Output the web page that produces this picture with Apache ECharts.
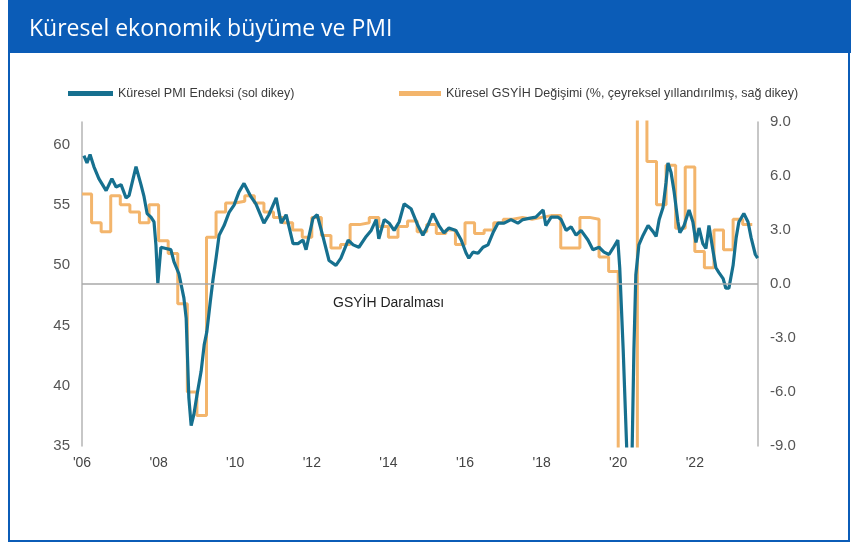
<!DOCTYPE html>
<html>
<head>
<meta charset="utf-8">
<script src="https://cdn.jsdelivr.net/npm/echarts@6/dist/echarts.min.js"></script>
<style>
  html, body { margin: 0; padding: 0; background: #fff; }
  #main { width: 851px; height: 547px; }
</style>
</head>
<body>
<div id="main"></div>
<script>
// aylik PMI (ondalik yil, deger)
var pmiDates = [
  2006.05, 2006.13, 2006.21, 2006.31, 2006.44, 2006.63, 2006.78, 2006.89, 2007.02, 2007.15,
  2007.23, 2007.41, 2007.54, 2007.62, 2007.70, 2007.80, 2007.88, 2007.93, 2007.98, 2008.06,
  2008.19, 2008.32, 2008.40, 2008.53, 2008.66, 2008.72, 2008.79, 2008.85, 2008.92, 2009.00,
  2009.11, 2009.19, 2009.26, 2009.35, 2009.42, 2009.50, 2009.58, 2009.71, 2009.84, 2009.97,
  2010.10, 2010.23, 2010.41, 2010.54, 2010.75, 2010.88, 2011.07, 2011.20, 2011.33, 2011.51,
  2011.64, 2011.77, 2011.85, 2012.03, 2012.14, 2012.29, 2012.45, 2012.63, 2012.76, 2012.95,
  2013.08, 2013.23, 2013.42, 2013.55, 2013.68, 2013.75, 2013.89, 2014.02, 2014.15, 2014.28,
  2014.41, 2014.59, 2014.77, 2014.90, 2015.03, 2015.16, 2015.32, 2015.45, 2015.58, 2015.76,
  2015.90, 2016.03, 2016.10, 2016.21, 2016.34, 2016.47, 2016.60, 2016.73, 2016.86, 2017.02,
  2017.20, 2017.38, 2017.51, 2017.67, 2017.85, 2018.04, 2018.11, 2018.25, 2018.43, 2018.51,
  2018.64, 2018.77, 2018.90, 2019.03, 2019.21, 2019.34, 2019.50, 2019.63, 2019.76, 2019.86,
  2019.99, 2020.04, 2020.13, 2020.22, 2020.28, 2020.36, 2020.41, 2020.46, 2020.54, 2020.65,
  2020.78, 2020.91, 2020.99, 2021.07, 2021.17, 2021.25, 2021.30, 2021.38, 2021.46, 2021.56,
  2021.61, 2021.72, 2021.85, 2021.95, 2022.03, 2022.11, 2022.21, 2022.29, 2022.37, 2022.48,
  2022.55, 2022.63, 2022.74, 2022.81, 2022.89, 2023.00, 2023.08, 2023.15, 2023.28, 2023.39,
  2023.47, 2023.58, 2023.64
];
var pmiValues = [
  59.1, 58.5, 59.2, 58.2, 57.2, 56.2, 57.2, 56.5, 56.7, 55.6,
  55.8, 58.2, 56.7, 55.7, 54.3, 54.0, 53.6, 51.7, 48.5, 51.5,
  51.4, 51.3, 50.3, 49.3, 47.3, 45.6, 39.0, 36.7, 37.6, 39.2,
  41.2, 43.4, 44.5, 47.0, 48.8, 50.6, 52.5, 53.3, 54.4, 55.0,
  56.1, 56.8, 55.7, 55.1, 53.5, 54.2, 55.6, 53.5, 54.2, 51.8,
  51.8, 52.1, 51.3, 53.9, 54.2, 52.4, 50.4, 50.0, 50.6, 52.1,
  51.7, 51.5, 52.4, 52.9, 53.8, 52.2, 53.8, 53.5, 52.9, 53.6,
  55.1, 54.7, 53.3, 52.5, 53.3, 54.3, 53.3, 52.7, 53.1, 52.9,
  52.1, 51.0, 50.6, 51.1, 51.0, 51.5, 51.7, 52.7, 53.5, 53.5,
  53.8, 53.5, 53.8, 53.9, 54.0, 54.6, 53.3, 54.0, 54.0, 53.8,
  52.9, 53.2, 52.5, 52.9, 52.1, 51.3, 51.5, 51.1, 50.9, 51.4,
  52.1, 49.8, 43.0, 35.0, 27.0, 34.0, 43.0, 49.2, 51.7, 52.5,
  53.3, 52.8, 52.4, 53.8, 54.8, 56.9, 58.5, 57.7, 56.1, 53.6,
  52.7, 53.3, 54.6, 53.6, 51.9, 53.1, 51.8, 51.4, 53.3, 51.1,
  49.8, 49.4, 48.9, 48.1, 48.1, 50.0, 52.3, 53.6, 54.3, 53.6,
  52.3, 50.9, 50.6
];

// ceyreklik GSYIH degisimi, 2006Q1 - 2023Q2
var gdpStartYear = 2006;
var gdpValues = [
  5.0, 3.4, 2.9, 4.9,   4.4, 4.0, 3.4, 4.4,   2.4, 1.7, -1.1, -6.0,
  -7.3, 2.6, 4.0, 4.5,  4.6, 4.9, 4.5, 4.0,   3.7, 3.4, 3.0, 2.6,
  3.7, 2.7, 2.0, 2.2,   3.3, 3.4, 3.7, 3.2,   2.6, 3.2, 3.5, 2.9,
  3.3, 2.8, 3.0, 2.2,   3.4, 2.8, 3.0, 3.4,   3.6, 3.7, 3.6, 3.7,
  3.8, 3.8, 2.0, 2.0,   3.7, 3.6, 1.5, 0.7,   -15, -15, 30, 6.8,
  4.4, 6.6, 3.1, 6.5,   1.8, 0.9, 3.0, 1.9,   3.6, 3.3
];

var xTicks = [2006, 2008, 2010, 2012, 2014, 2016, 2018, 2020, 2022];
var pmiTicks = [35, 40, 45, 50, 55, 60];

var pmiData = pmiDates.map(function (d, i) { return [d, pmiValues[i]]; });
var gdpData = gdpValues.map(function (v, i) { return [gdpStartYear + i / 4, v]; });
// son ceyregin sonunu kapat
gdpData.push([gdpStartYear + gdpValues.length / 4, gdpValues[gdpValues.length - 1]]);

var myChart = echarts.init(document.getElementById('main'));

var option = {
  backgroundColor: '#fff',
  animation: false,
  graphic: [
    { type: 'rect', shape: { x: 8, y: 0, width: 843, height: 53 }, style: { fill: '#0b5cb7' }, z: 0 },
    { type: 'rect', shape: { x: 9, y: 52, width: 840, height: 489 },
      style: { fill: 'none', stroke: '#0b5cb7', lineWidth: 2 }, z: 0 },
    { type: 'text', left: 29, top: 18,
      style: { text: 'Küresel ekonomik büyüme ve PMI', fill: '#fff',
               font: '500 23px "Open Sans", sans-serif' } },
    { type: 'text', left: 333, top: 296,
      style: { text: 'GSYİH Daralması', fill: '#222',
               font: '14px "Liberation Sans", Arial, sans-serif' } }
  ],
  legend: [
    {
      left: 63, top: 82, icon: 'rect', itemWidth: 45, itemHeight: 5,
      textStyle: { color: '#3a3a3a', fontSize: 12.5, fontFamily: 'Liberation Sans' },
      data: ['Küresel PMI Endeksi (sol dikey)']
    },
    {
      left: 394, top: 82, icon: 'rect', itemWidth: 42, itemHeight: 5,
      textStyle: { color: '#3a3a3a', fontSize: 12.5, fontFamily: 'Liberation Sans' },
      data: ['Küresel GSYİH Değişimi (%, çeyreksel yıllandırılmış, sağ dikey)']
    }
  ],
  grid: { left: 82, right: 93, top: 122, bottom: 101, containLabel: false },
  xAxis: {
    type: 'value',
    min: 2006, max: 2023.65, interval: 2,
    axisLine: { show: false },
    axisTick: { show: false },
    splitLine: { show: false },
    axisLabel: {
      color: '#444', fontSize: 14, fontFamily: 'Liberation Sans', margin: 10,
      showMaxLabel: false,
      formatter: function (v) {
        return xTicks.indexOf(v) >= 0 ? "'" + String(v).slice(2) : '';
      }
    }
  },
  yAxis: [
    {
      type: 'value', position: 'left',
      min: 35, max: 61.9, interval: 5,
      axisLine: { show: true, lineStyle: { color: '#b5b5b5', width: 1.5 } },
      axisTick: { show: false },
      splitLine: { show: false },
      axisLabel: {
        color: '#555', fontSize: 15, fontFamily: 'Liberation Sans', margin: 12,
        formatter: function (v) { return pmiTicks.indexOf(v) >= 0 ? String(v) : ''; }
      }
    },
    {
      type: 'value', position: 'right',
      min: -9, max: 9, interval: 3,
      axisLine: { show: true, lineStyle: { color: '#b5b5b5', width: 1.5 } },
      axisTick: { show: false },
      splitLine: { show: false },
      axisLabel: {
        color: '#555', fontSize: 15, fontFamily: 'Liberation Sans', margin: 12,
        formatter: function (v) { return v.toFixed(1); }
      }
    }
  ],
  series: [
    {
      name: 'Küresel GSYİH Değişimi (%, çeyreksel yıllandırılmış, sağ dikey)',
      type: 'line', yAxisIndex: 1, step: 'end',
      data: gdpData, showSymbol: false, clip: true,
      color: '#f3b56c',
      lineStyle: { width: 3, color: '#f3b56c' },
      markLine: {
        silent: true, symbol: 'none', label: { show: false },
        lineStyle: { color: '#a8a8a8', width: 1.5, type: 'solid' },
        data: [{ yAxis: 0 }]
      },
      z: 2
    },
    {
      name: 'Küresel PMI Endeksi (sol dikey)',
      type: 'line', yAxisIndex: 0,
      data: pmiData, showSymbol: false, clip: true,
      color: '#16708f',
      lineStyle: { width: 3.2, color: '#16708f' },
      z: 3
    }
  ]
};

myChart.setOption(option);
</script>
</body>
</html>
